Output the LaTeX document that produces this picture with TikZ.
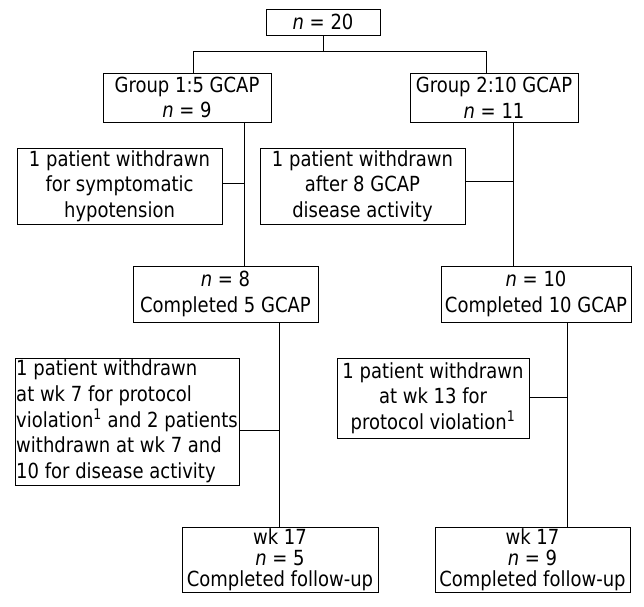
\documentclass[tikz,border=0pt]{standalone}
\usepackage{fontspec}
\setmainfont{DejaVu Sans}[FakeStretch=0.865]
\usepackage{tikz}

\tikzset{
  box/.style={draw, line width=0.9pt, inner sep=0pt, align=center},
  link/.style={line width=0.9pt}
}

\begin{document}
\begin{tikzpicture}[x=1pt, y=-1pt, font=\fontsize{20.8}{25.7}\selectfont]
            \useasboundingbox (0,0) rectangle (644,606);

            \node[box, minimum width=114, minimum height=26] (top) at (323,22) {\textit{n} = 20};
            \node[box, minimum width=168, minimum height=49] (g1) at (187,97.5) {Group 1:5 GCAP\\\textit{n} = 9};
            \node[box, minimum width=168, minimum height=49] (g2) at (494,97.5) {Group 2:10 GCAP\\\textit{n} = 11};
            \node[box, minimum width=205, minimum height=76] (w1) at (119.5,186) {1 patient withdrawn\\for symptomatic\\hypotension};
            \node[box, minimum width=205, minimum height=76] (w2) at (362.5,186) {1 patient withdrawn\\after 8 GCAP\\disease activity};
            \node[box, minimum width=185, minimum height=56] (c1) at (225.5,294) {\textit{n} = 8\\Completed 5 GCAP};
            \node[box, minimum width=190, minimum height=56] (c2) at (536,294) {\textit{n} = 10\\Completed 10 GCAP};
            \node[box, minimum width=224, minimum height=127, align=left] (w3) at (127,421.5)
                {1 patient withdrawn\\at wk 7 for protocol\\violation\textsuperscript{1} and 2 patients\\withdrawn at wk 7 and\\10 for disease activity};
            \node[box, minimum width=192, minimum height=80] (w4) at (433,398) {1 patient withdrawn\\at wk 13 for\\protocol violation\textsuperscript{1}};
            \node[box, minimum width=196, minimum height=65] (f1) at (280,559.5) {wk 17\\[-4.5pt]\textit{n} = 5\\[-4.5pt]Completed follow-up};
            \node[box, minimum width=195, minimum height=65] (f2) at (532.5,559.5) {wk 17\\[-4.5pt]\textit{n} = 9\\[-4.5pt]Completed follow-up};

            \coordinate (split) at (323,51);
            \draw[link] (top) -- (split);
            \draw[link] (split) -| ([xshift=6]g1.north);
            \draw[link] (split) -| ([xshift=-8]g2.north);

            \draw[link] (g1.south -| 244,0) -- (c1.north -| 244,0);
            \draw[link] (g2.south -| 513,0) -- (c2.north -| 513,0);
            \draw[link] ([yshift=3]w1.east) -- ([yshift=3]w1.east -| 244,0);
            \draw[link] ([yshift=5]w2.east) -- ([yshift=5]w2.east -| 513,0);

            \draw[link] (c1.south -| 279,0) -- (f1.north -| 279,0);
            \draw[link] (c2.south -| 567,0) -- (f2.north -| 567,0);
            \draw[link] ([yshift=-8.5]w3.east) -- ([yshift=-8.5]w3.east -| 279,0);
            \draw[link] ([yshift=1]w4.east) -- ([yshift=1]w4.east -| 567,0);
        \end{tikzpicture}
\end{document}
